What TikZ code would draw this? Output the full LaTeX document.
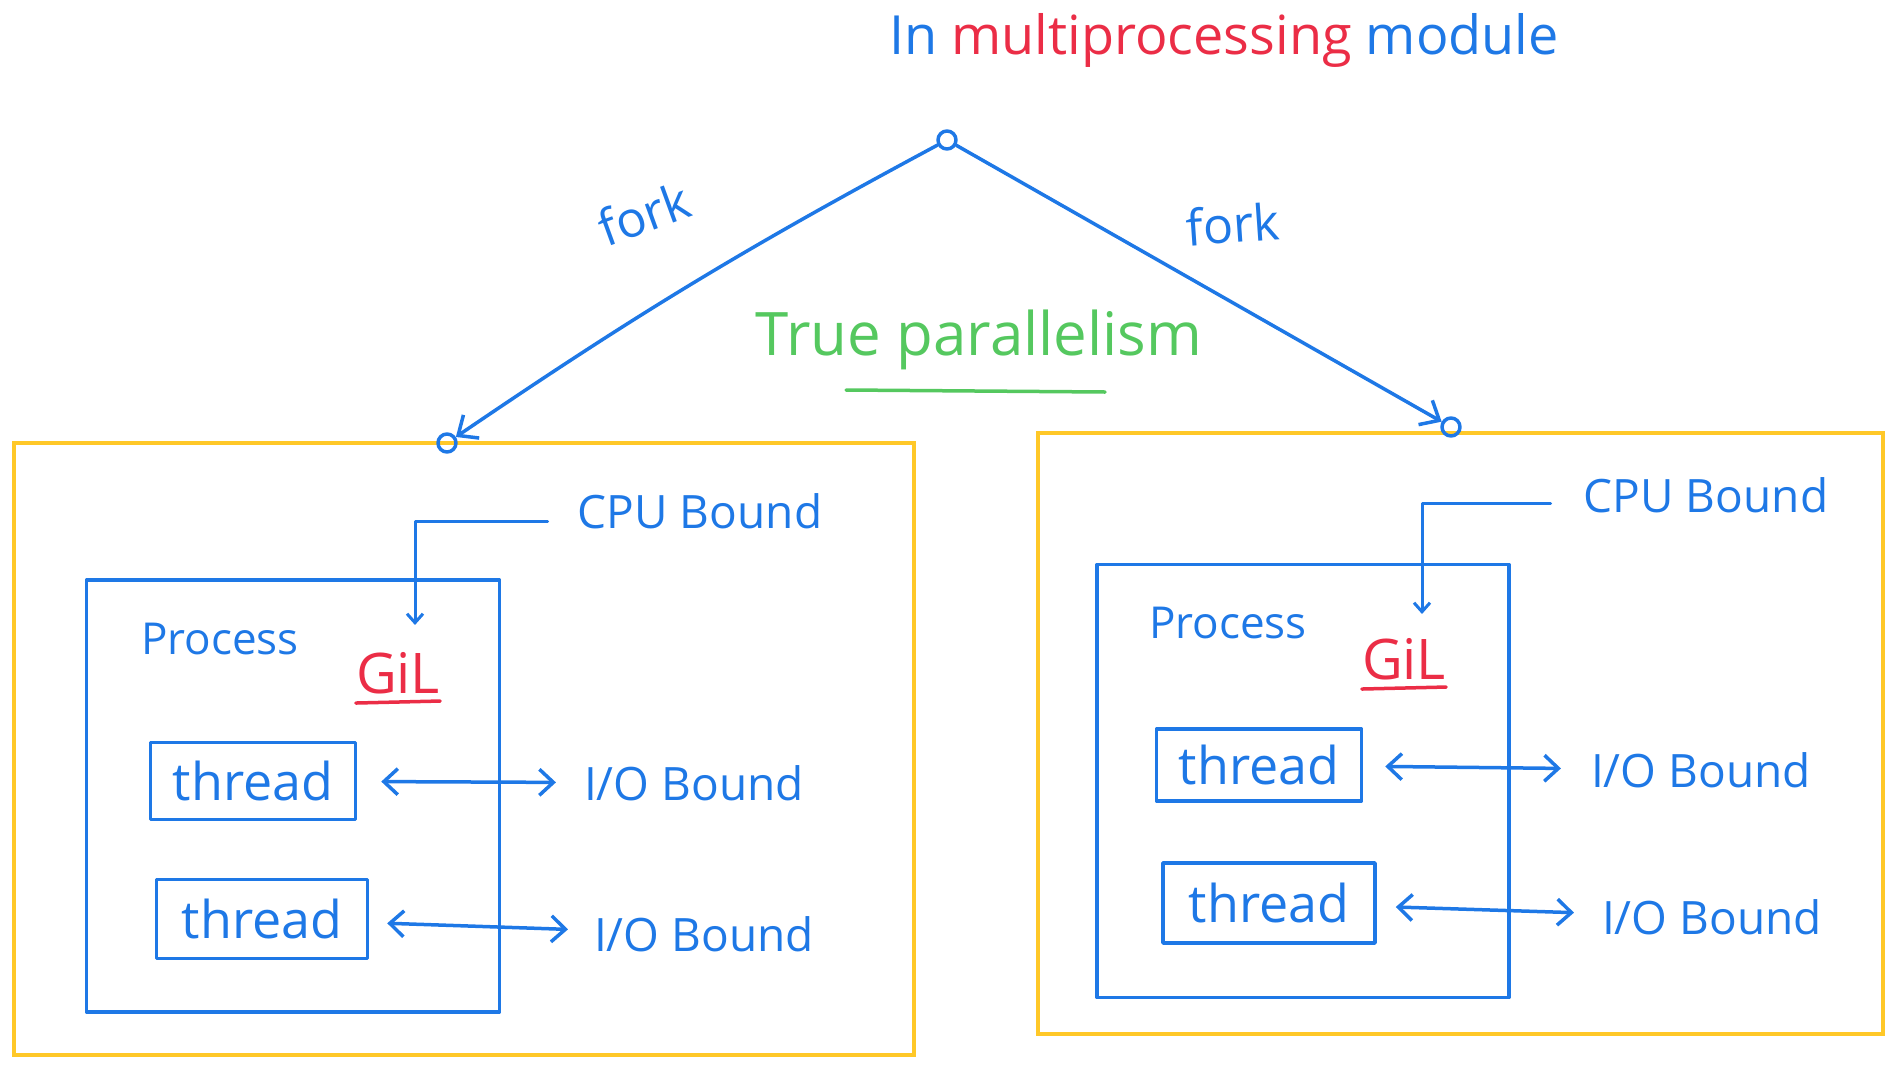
\documentclass[tikz,border=0pt]{standalone}
\usepackage{fontspec}
\setmainfont{Open Sans}
\usetikzlibrary{arrows.meta}
\definecolor{penblue}{RGB}{30,120,230}
\definecolor{penred}{RGB}{235,45,70}
\definecolor{pengreen}{RGB}{85,200,95}
\definecolor{penyellow}{RGB}{255,200,40}
\tikzset{
  pen/.style={draw=penblue, line width=3.5pt, line cap=round, line join=round},
  redpen/.style={draw=penred, line width=3.5pt, line cap=round},
  greenpen/.style={draw=pengreen, line width=3.5pt, line cap=round},
  yframe/.style={draw=penyellow, line width=4pt, rectangle},
  pbox/.style={pen, rectangle},
  thbox/.style={pen, rectangle, minimum width=205pt, minimum height=77pt, text=penblue, font=\fontsize{52}{60}\selectfont},
  dot/.style={pen, circle, minimum size=18pt, inner sep=0pt},
  txt/.style={text=penblue, inner sep=0pt, font=\fontsize{46}{54}\selectfont},
  forkline/.style={pen, -{Straight Barb[length=16pt, width=28pt]}},
  cpuline/.style={pen, line width=3pt, -{Straight Barb[length=9pt, width=16pt]}},
  ioline/.style={pen, {Straight Barb[length=14pt, width=26pt]}-{Straight Barb[length=14pt, width=26pt]}}
}
\begin{document}
\begin{tikzpicture}[x=1pt, y=-1pt, node distance=138pt]
\useasboundingbox (0,0) rectangle (1904,1074);
\node (title)[txt, font=\fontsize{54}{64}\selectfont] at (1224,40) {In {\color{penred}multiprocessing} module};
\node (top)[dot] at (947,140) {};
\node (lframe)[yframe, minimum width=900pt, minimum height=612pt] at (464,749) {};
\node (rframe)[yframe, minimum width=845pt, minimum height=601pt] at (1460,733) {};
\node (ldot)[dot] at (447,443) {};
\node (rdot)[dot] at (1451,427) {};
\node (lfork)[txt, font=\fontsize{50}{58}\selectfont, rotate=20] at (644,214) {fork};
\node (rfork)[txt, font=\fontsize{50}{58}\selectfont, rotate=4] at (1233,224) {fork};
\node (par)[txt, text=pengreen, font=\fontsize{60}{70}\selectfont] at (979,340) {True parallelism};
\draw[greenpen] (846,390) -- (1105,392);
\node (lcpu)[txt] at (700,511) {CPU Bound};
\node (lproc)[pbox, minimum width=413pt, minimum height=432pt] at (293,796) {};
\node (lptxt)[txt, font=\fontsize{44}{52}\selectfont] at (220,639) {Process};
\node (lgil)[txt, text=penred, font=\fontsize{56}{64}\selectfont] at (398,673) {GiL};
\node (lth1)[thbox] at (253,781) {thread};
\node (lth2)[thbox, minimum width=211pt, minimum height=79pt] [below of = lth1, xshift=9pt] {thread};
\node (lio1)[txt] at (694,783) {I/O Bound};
\node (lio2)[txt] at (704,934) {I/O Bound};
\node (rcpu)[txt] at (1706,495) {CPU Bound};
\node (rproc)[pbox, minimum width=412pt, minimum height=433pt] at (1303,781) {};
\node (rptxt)[txt, font=\fontsize{44}{52}\selectfont] at (1228,623) {Process};
\node (rgil)[txt, text=penred, font=\fontsize{56}{64}\selectfont] at (1404,659) {GiL};
\node (rth1)[thbox, minimum height=72pt] at (1259,765) {thread};
\node (rth2)[thbox, minimum width=212pt, minimum height=80pt] [below of = rth1, xshift=10pt] {thread};
\node (rio1)[txt] at (1701,770) {I/O Bound};
\node (rio2)[txt] at (1712,917) {I/O Bound};
\draw[forkline, bend right=3] (top) to (ldot);
\draw[forkline] (top) -- (rdot);
\draw[redpen] ([yshift=-9pt]lgil.south west) -- ([yshift=-7pt]lgil.south east);
\draw[redpen] ([yshift=-9pt]rgil.south west) -- ([yshift=-7pt]rgil.south east);
\draw[cpuline] ([xshift=-30pt, yshift=-10pt]lcpu.west) -| ([xshift=17pt, yshift=27pt]lgil.north);
\draw[cpuline] ([xshift=-33pt, yshift=-8pt]rcpu.west) -| ([xshift=18pt, yshift=24pt]rgil.north);
\draw[ioline, shorten <=24pt, shorten >=28pt] (lth1) -- (lio1);
\draw[ioline, shorten <=18pt, shorten >=26pt] (lth2) -- (lio2);
\draw[ioline, shorten <=22pt, shorten >=30pt] (rth1) -- (rio1);
\draw[ioline, shorten <=19pt, shorten >=28pt] (rth2) -- (rio2);
\end{tikzpicture}
\end{document}
